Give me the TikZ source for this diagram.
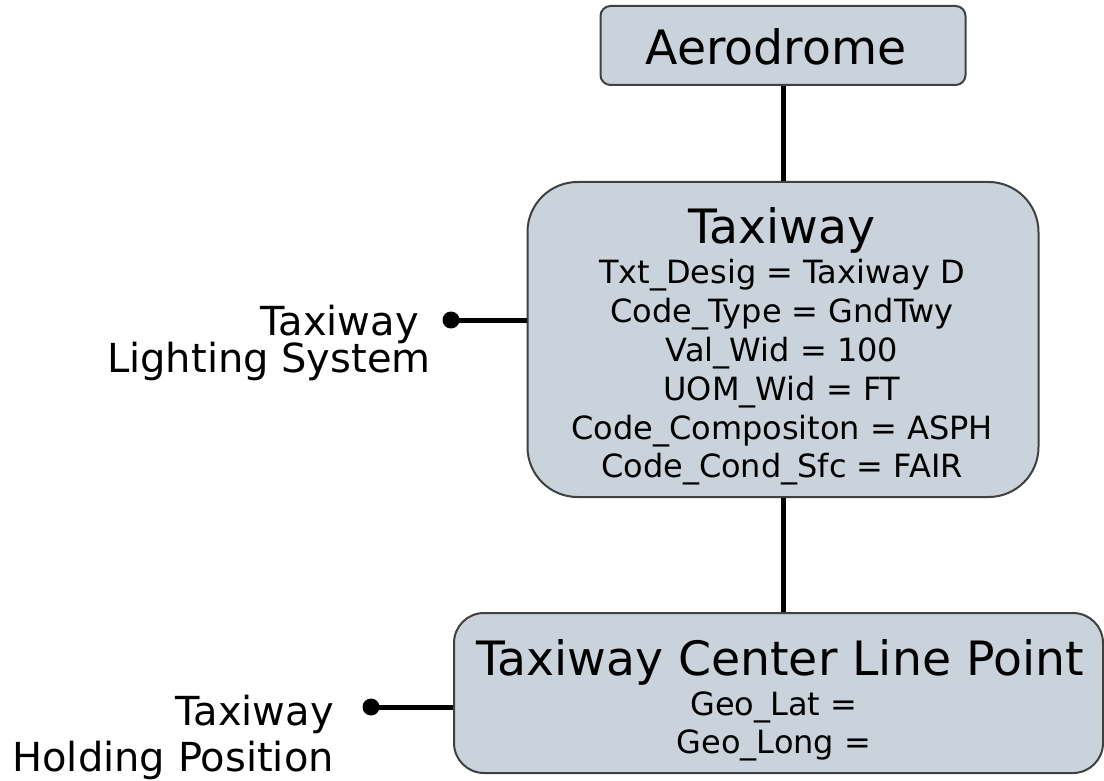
\documentclass[tikz,border=0pt]{standalone}
\usepackage{fontspec}
\setmainfont{DejaVu Sans}
\definecolor{boxfill}{RGB}{202,210,220}
\definecolor{boxline}{RGB}{64,64,64}
\begin{document}
\begin{tikzpicture}[x=0.75pt,y=-0.75pt,
  entity/.style={draw=boxline, fill=boxfill, line width=1.5pt, inner sep=0pt},
  conn/.style={line width=3.75pt, black},
  dotnode/.style={circle, fill=black, inner sep=0pt, minimum size=12.75pt},
  txt/.style={inner sep=0pt, anchor=base, text=black},
  titlefont/.style={font=\fontsize{35.5}{42}\selectfont},
  attrfont/.style={font=\fontsize{24}{29}\selectfont},
  labelfont/.style={font=\fontsize{30}{36}\selectfont}]
\useasboundingbox (0,0) rectangle (1104,781);
% boxes
\node[entity, rounded corners=7.5pt, minimum width=273.75pt, minimum height=59.25pt] (aero) at (783,45.5) {};
\node[entity, rounded corners=37.5pt, minimum width=383.25pt, minimum height=236.25pt] (taxi) at (783,339.5) {};
\node[entity, rounded corners=22.5pt, minimum width=486.75pt, minimum height=120pt] (tclp) at (778.5,693) {};
% connectors
\draw[conn] (aero.south) -- (taxi.north);
\draw[conn] (taxi.south) -- (taxi.south |- tclp.north);
\node[dotnode] (d1) at (451,320) {};
\node[dotnode] (d2) at (371,707) {};
\draw[conn] (d1.center) -- (d1.center -| taxi.west);
\draw[conn] (d2.center) -- (d2.center -| tclp.west);
% texts
\node[txt, titlefont] (aerot) at (776,65) {Aerodrome};
\node[txt, titlefont] (taxit) at (782,243.5) {Taxiway};
\node[txt, attrfont] (a1) at (782,284) {Txt\_Desig = Taxiway D};
\node[txt, attrfont] (a2) at (782,322.5) {Code\_Type = GndTwy};
\node[txt, attrfont] (a3) at (782,361) {Val\_Wid = 100};
\node[txt, attrfont] (a4) at (782,400) {UOM\_Wid = FT};
\node[txt, attrfont] (a5) at (782,439) {Code\_Compositon = ASPH};
\node[txt, attrfont] (a6) at (782,477) {Code\_Cond\_Sfc = FAIR};
\node[txt, titlefont] (tclpt) at (780,675) {Taxiway Center Line Point};
\node[txt, attrfont] (g1) at (774,715) {Geo\_Lat =};
\node[txt, attrfont] (g2) at (774,753) {Geo\_Long =};
\node[txt, labelfont, anchor=base east] (l1) at (419,335) {Taxiway};
\node[txt, labelfont, anchor=base east] (l2) at (431,373) {Lighting System};
\node[txt, labelfont, anchor=base east] (l3) at (334,725) {Taxiway};
\node[txt, labelfont, anchor=base east] (l4) at (334,771) {Holding Position};
\end{tikzpicture}
\end{document}
